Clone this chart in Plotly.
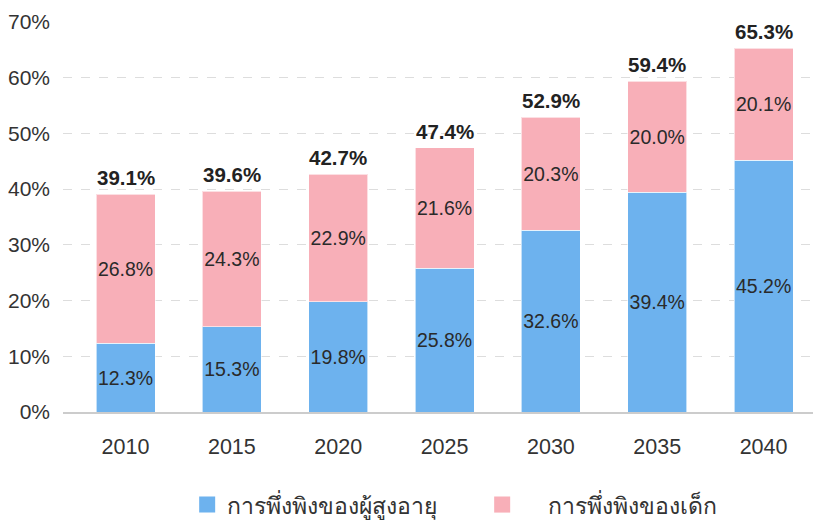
import plotly.graph_objects as go

years = ["2010", "2015", "2020", "2025", "2030", "2035", "2040"]
elderly = [12.3, 15.3, 19.8, 25.8, 32.6, 39.4, 45.2]
child = [26.8, 24.3, 22.9, 21.6, 20.3, 20.0, 20.1]
totals = [39.1, 39.6, 42.7, 47.4, 52.9, 59.4, 65.3]
names = ["การพึ่งพิงของผู้สูงอายุ", "การพึ่งพิงของเด็ก"]
yticks = [0, 10, 20, 30, 40, 50, 60, 70]

BLUE = "#6db2ee"
PINK = "#f8afb8"
FONT = "Liberation Sans, Arial, sans-serif"

fig = go.Figure()
for vals, col in ((elderly, BLUE), (child, PINK)):
    fig.add_trace(go.Bar(
        x=years, y=vals, showlegend=False,
        marker=dict(color=col, line=dict(color="rgba(255,255,255,0.6)", width=1)),
        text=[f"{v:.1f}%" for v in vals], textposition="inside", insidetextanchor="middle",
        textangle=0,
        textfont=dict(size=19.5, color="#2a2a2a", family=FONT), constraintext="none",
        hoverinfo="skip",
    ))
# category axis: annotations use the category index
for i, tot in enumerate(totals):
    fig.add_annotation(
        x=i, y=tot, xref="x", yref="y", text=f"<b>{tot:.1f}%</b>", showarrow=False,
        yanchor="bottom", yshift=3,
        font=dict(size=20.5, color="#222222", family=FONT),
    )
pads = ["", "\u00a0\u00a0\u00a0\u00a0"]
for nm, col, pad in zip(names, (BLUE, PINK), pads):
    fig.add_trace(go.Scatter(
        x=[None], y=[None], mode="markers", name=pad + nm,
        marker=dict(symbol="square", size=17, color=col),
        showlegend=True, hoverinfo="skip",
    ))

fig.update_layout(
    barmode="stack", bargap=0.445,
    width=813, height=512,
    margin=dict(l=55, r=0, t=14, b=108),
    plot_bgcolor="white", paper_bgcolor="white",
    font=dict(family=FONT, size=21, color="#333333"),
    showlegend=True,
    legend=dict(orientation="h", x=0.553, xanchor="center",
                yref="container", y=0.03, yanchor="middle",
                font=dict(size=23, color="#333333"), entrywidth=250,
                traceorder="normal"),
    xaxis=dict(type="category", range=[-0.588, 6.54], showgrid=False,
               showline=True, linecolor="#cccccc", linewidth=2, ticks="",
               ticklabelstandoff=14,
               tickfont=dict(size=21.5, color="#333333")),
    yaxis=dict(range=[0, 70], tickvals=yticks, ticktext=[f"{v}%" for v in yticks],
               showgrid=True, gridcolor="#dddddd", griddash="dash", gridwidth=1,
               zeroline=False, showline=False, ticks="", ticklen=0,
               ticklabelstandoff=12,
               tickfont=dict(size=21, color="#333333")),
)

fig.write_html("out.html")
